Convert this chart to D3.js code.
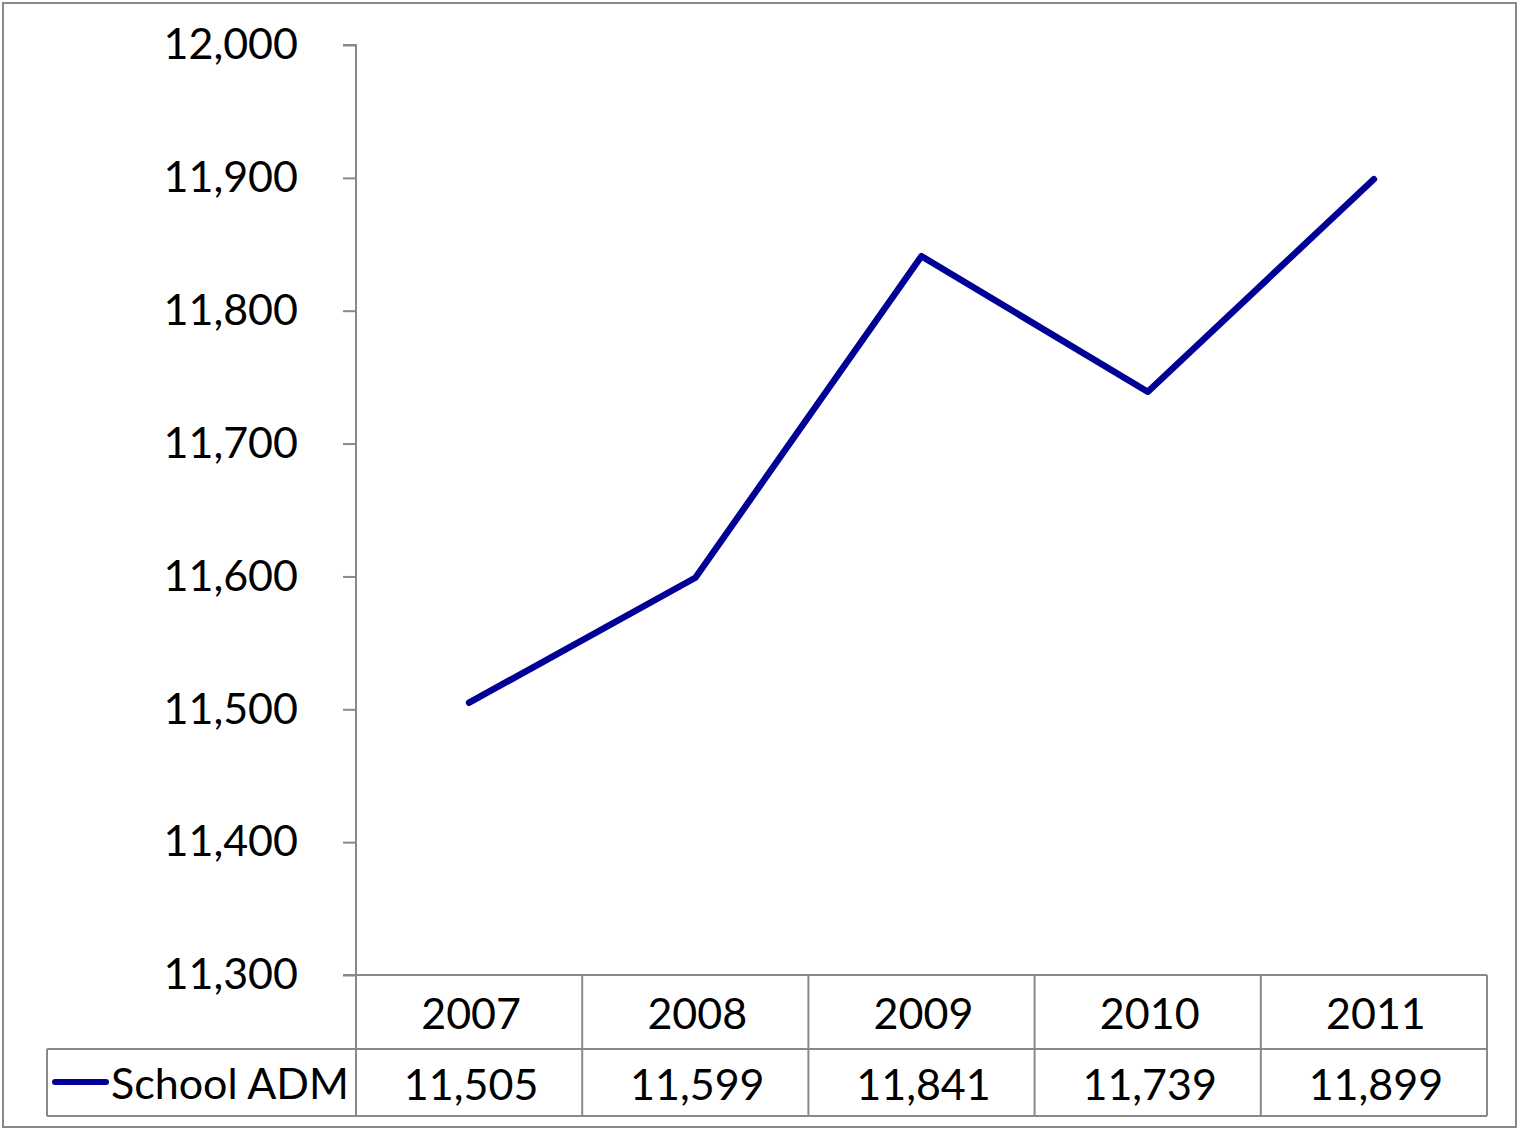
<!DOCTYPE html>
<html>
<head>
<meta charset="utf-8">
<script src="https://cdn.jsdelivr.net/npm/d3@7"></script>
<style>
  body { margin: 0; background: #fff; }
  text { font-family: Lato, "Open Sans", sans-serif; fill: #000; }
</style>
</head>
<body>
<svg id="chart" width="1518" height="1130"></svg>
<script>
// chart data
const years = ["2007", "2008", "2009", "2010", "2011"];
const schoolADM = [11505, 11599, 11841, 11739, 11899];
const yTicks = [11300, 11400, 11500, 11600, 11700, 11800, 11900, 12000];
const seriesName = "School ADM";

const svg = d3.select("#chart");
const gridColor = "#898989";
const lineColor = "#000096";
const fmt = d3.format(",");
const fontSize = 43;

// outer frame
svg.append("rect")
  .attr("x", 3).attr("y", 3)
  .attr("width", 1513).attr("height", 1124)
  .attr("fill", "none")
  .attr("stroke", gridColor)
  .attr("stroke-width", 2);

let x = d3.scaleBand().domain(years).range([356, 1487]);
let y = d3.scaleLinear().domain([11300, 12000]).range([975, 45]);

// y axis
let yAxis = d3.axisLeft(y)
  .tickValues(yTicks)
  .tickSize(13)
  .tickPadding(45)
  .tickFormat(fmt);

let ga = svg.append("g")
  .attr("transform", "translate(356,0)")
  .call(yAxis);
ga.select(".domain").attr("stroke", gridColor).attr("stroke-width", 2)
  .attr("d", "M-13," + y(12000) + "H0V" + y(11300));
ga.selectAll(".tick line").attr("stroke", gridColor).attr("stroke-width", 2);
ga.selectAll(".tick text")
  .attr("font-size", fontSize)
  .attr("font-family", "Lato, sans-serif")
  .attr("fill", "#000");

// data table
let rowTop = 975, rowMid = 1049, rowBot = 1116, legendLeft = 47;
let tbl = svg.append("g")
  .attr("stroke", gridColor)
  .attr("stroke-width", 2)
  .attr("fill", "none");

tbl.append("line").attr("x1", 343).attr("x2", x.range()[1]).attr("y1", rowTop).attr("y2", rowTop);
tbl.append("line").attr("x1", legendLeft).attr("x2", x.range()[1]).attr("y1", rowMid).attr("y2", rowMid);
tbl.append("line").attr("x1", legendLeft).attr("x2", x.range()[1]).attr("y1", rowBot).attr("y2", rowBot);
tbl.append("line").attr("x1", legendLeft).attr("x2", legendLeft).attr("y1", rowMid).attr("y2", rowBot);

tbl.selectAll("line.col")
  .data(years.concat(["end"]))
  .enter()
  .append("line")
  .attr("class", "col")
  .attr("x1", function(d){ return d == "end" ? x.range()[1] : x(d); })
  .attr("x2", function(d){ return d == "end" ? x.range()[1] : x(d); })
  .attr("y1", rowTop)
  .attr("y2", rowBot);

svg.selectAll("text.year")
  .data(years)
  .enter()
  .append("text")
  .attr("class", "year")
  .attr("x", function(d){ return x(d) + x.bandwidth() / 2 + 2; })
  .attr("y", 1029)
  .attr("text-anchor", "middle")
  .attr("font-size", fontSize)
  .text(function(d){ return d; });

svg.selectAll("text.val")
  .data(schoolADM)
  .enter()
  .append("text")
  .attr("class", "val")
  .attr("x", function(d, i){ return x(years[i]) + x.bandwidth() / 2 + 2; })
  .attr("y", 1100)
  .attr("text-anchor", "middle")
  .attr("font-size", fontSize)
  .text(function(d){ return fmt(d); });

// legend key
svg.append("line")
  .attr("x1", 55).attr("x2", 106)
  .attr("y1", 1082).attr("y2", 1082)
  .attr("stroke", lineColor)
  .attr("stroke-width", 6)
  .attr("stroke-linecap", "round");
svg.append("text")
  .attr("x", 111).attr("y", 1099)
  .attr("font-size", fontSize)
  .text(seriesName);

// the line
let line = d3.line()
  .x(function(d, i){ return x(years[i]) + x.bandwidth() / 2; })
  .y(function(d){ return y(d); });

svg.append("path")
  .datum(schoolADM)
  .attr("d", line)
  .attr("fill", "none")
  .attr("stroke", lineColor)
  .attr("stroke-width", 6.5)
  .attr("stroke-linecap", "round")
  .attr("stroke-linejoin", "round");
</script>
</body>
</html>
